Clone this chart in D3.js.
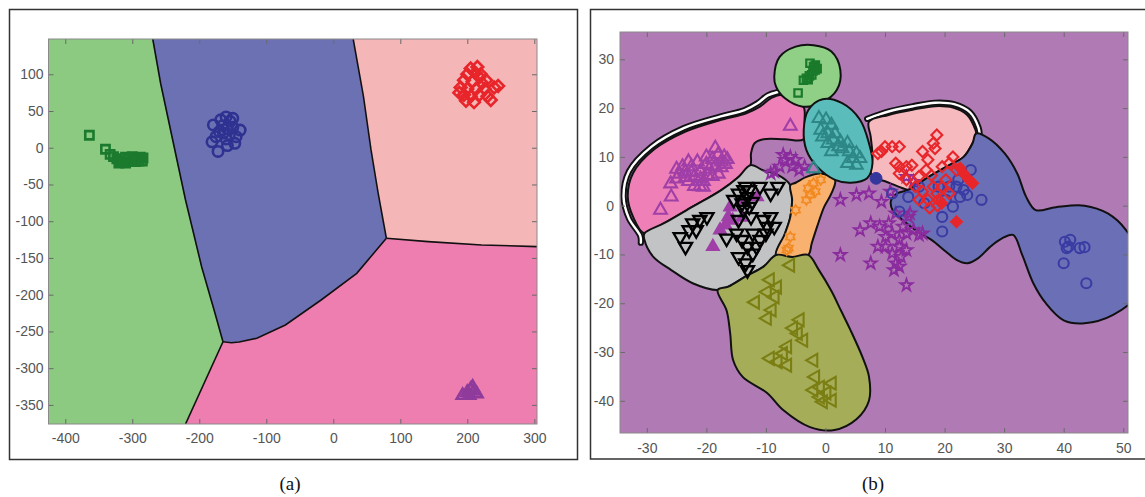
<!DOCTYPE html>
<html><head><meta charset="utf-8">
<script src="https://cdn.jsdelivr.net/npm/d3@7"></script>
<style>
body{margin:0;background:#fff}
svg{display:block}
.tick text{font-family:"Liberation Sans",Arial,sans-serif;font-size:14px;fill:#555}
.tick line{stroke:#6a6a6a;stroke-width:1}
.cap{font-family:"Liberation Serif","DejaVu Serif",serif;font-size:19px;fill:#111}
</style></head>
<body>
<svg id="c" width="1145" height="497"></svg>
<script>
// ---------- tick values ----------
const A_xTicks = [-400,-300,-200,-100,0,100,200,300];
const A_yTicks = [-350,-300,-250,-200,-150,-100,-50,0,50,100];
const B_xTicks = [-30,-20,-10,0,10,20,30,40,50];
const B_yTicks = [-40,-30,-20,-10,0,10,20,30];

// ---------- panel (a) boundaries (data coords) ----------
const A_bGreenBlue = [[-269.4,148],[-257.7,87.8],[-241.8,19.7],[-220.5,-71.1],[-196.5,-161.9],[-177.9,-220.8],[-164.6,-264]];
const A_bGreenPink = [[-164.6,-264],[-220.5,-376]];
const A_bBluePink  = [[-164.6,-264],[-152,-265.5],[-140.6,-264.5],[-114.1,-259.3],[-71.5,-241.2],[-18.2,-207.2],[35.0,-170.9],[79.2,-123.2]];
const A_bBlueLpink = [[29.7,148],[45,70],[56.3,-3.0],[67.0,-62],[79.2,-123.2]];
const A_bLpinkPink = [[79.2,-123.2],[141.5,-127.8],[221.3,-132.3],[304,-134.6]];

// ---------- panel (a) points ----------
const A_greenSq = [[-364,17],[-340,-2],[-333,-9],[-328,-12],[-323,-15],[-318,-18],[-314,-20],[-310,-21],[-305,-19],[-300,-17],[-296,-15],[-292,-14],[-288,-13],[-284,-14],[-310,-13],[-300,-12],[-290,-18],[-320,-21],[-306,-15],[-295,-19],[-285,-18]];
const A_blueCirc = [[-179,31],[-154,36],[-139,24],[-181,8],[-172,-5],[-158,3],[-147,6],[-164,20],[-160,42],[-150,28],[-170,22],[-160,12],[-155,18],[-165,30],[-145,15],[-175,15],[-150,40],[-168,38],[-158,26]];
const A_redDia = [[205,108],[200,100],[212,102],[218,96],[195,92],[208,90],[222,88],[190,82],[200,80],[213,80],[226,80],[195,72],[205,70],[218,72],[230,70],[240,82],[246,84],[235,65],[210,62],[198,64],[220,100],[188,75],[228,92],[215,110]];
const A_purpleTri = [[193,-337],[200,-333],[205,-329],[210,-331],[214,-335],[203,-337],[208,-326]];

// ---------- panel (b) regions (data coords) ----------
const B_green = [[-8.6,26.4],[-7.7,30.5],[-5.0,32.6],[-2.0,32.9],[1.0,31.6],[2.5,27.8],[1.9,23.7],[-0.8,21.0],[-3.8,20.3],[-6.8,22.0],[-8.3,24.4]];
const B_cyan = [[-3.65,15.5],[-2.87,19.6],[-0.48,21.8],[2.8,21.0],[5.8,17.6],[7.3,12.8],[7.9,8.7],[7.0,5.6],[4.3,4.7],[1.6,5.3],[-1.4,8.0],[-3.2,11.4]];
const B_pink = [[-32.3,-2.3],[-33.2,1.8],[-32.3,6.7],[-28.7,11.6],[-23.5,15.2],[-17.5,17.6],[-13.4,18.9],[-11.0,20.3],[-9.2,22.0],[-7.5,22.7],[-5.6,21.3],[-3.7,20.3],[-3.5,17.6],[-3.7,13.6],[-6.8,13.6],[-10.4,13.6],[-11.9,12.8],[-12.5,10.7],[-12.6,8.3],[-14.6,5.9],[-17.5,3.2],[-22.3,-0.2],[-27.1,-3.6],[-30.4,-5.7]];
const B_gray = [[-12.6,8.3],[-10.4,7.2],[-8.0,6.3],[-5.9,4.2],[-5.6,1.2],[-5.9,-2.3],[-6.8,-5.7],[-8.3,-10.1],[-10.4,-12.5],[-13.4,-14.5],[-16.3,-16.6],[-18.1,-17.3],[-22.3,-15.9],[-25.9,-13.2],[-28.9,-10.5],[-30.4,-7.0],[-30.4,-5.7],[-27.1,-3.6],[-22.3,-0.2],[-17.5,3.2],[-14.6,5.9]];
const B_orange = [[-5.9,4.2],[-5.0,4.7],[-3.2,5.9],[-0.8,6.6],[1.6,5.3],[1.0,2.5],[-0.2,-0.2],[-1.4,-4.3],[-2.3,-7.7],[-2.9,-10.1],[-5.6,-10.5],[-8.3,-10.1],[-6.8,-5.7],[-5.9,-2.3],[-5.6,1.2]];
const B_olive = [[-18.1,-17.3],[-16.3,-16.6],[-13.4,-14.5],[-10.4,-12.5],[-8.3,-10.1],[-5.6,-10.5],[-2.9,-10.1],[-1.2,-13],[1.0,-17.5],[2.6,-21.5],[4.2,-25.5],[6.2,-31],[7.3,-35],[7.3,-40],[5.2,-43.8],[1.5,-46],[-2.6,-45.4],[-7.1,-41.9],[-9.8,-38.4],[-13.9,-35.1],[-15.5,-31.7],[-16.0,-26.2],[-16.6,-21.5]];
const B_lpink = [[7.3,17.2],[10.6,18.6],[14.8,19.7],[18.4,20.4],[21.4,20.1],[23.8,18.6],[25.1,15.8],[25.3,14.8],[24.7,12.8],[23.2,10.0],[20.8,8.3],[17.2,5.8],[14.0,3.3],[12.5,3.8],[10.0,5.0],[8.5,5.6],[7.6,6.6],[7.9,10],[7.6,14.1]];
const B_blue = [[25.3,14.8],[27.4,13.8],[30.1,10.7],[32.2,6.6],[33.7,1.8],[35.3,-0.9],[38.7,-0.3],[43.5,0],[47.4,-1.6],[50.4,-4.9],[52.5,-10],[52.5,-18],[48.3,-22.4],[43.5,-24.1],[40,-23.5],[37,-20],[34.9,-15.9],[33,-10],[31.5,-6.0],[29.5,-6.8],[27.6,-8.5],[25.6,-10.8],[23.8,-11.8],[22,-11.1],[20.2,-9.4],[17.8,-7],[15.4,-5.3],[13,-3],[11.3,-1],[11,1],[12,2.5],[14.0,3.3],[17.2,5.8],[20.8,8.3],[23.2,10.0],[24.7,12.8]];
const B_bandLeft = [[-8.0,23.3],[-9.7,22.6],[-11.4,21.0],[-13.6,19.6],[-17.6,18.3],[-23.8,15.9],[-29.2,12.1],[-33.0,7.0],[-33.9,1.8],[-33.0,-2.6],[-31.1,-6.2],[-31.0,-7.6]];
const B_bandRight = [[7.0,17.8],[10.6,19.3],[14.8,20.4],[18.4,21.1],[21.6,20.8],[24.3,19.1],[25.7,16.0],[25.9,14.6]];

// ---------- panel (b) points ----------
const B_greenSq = [[-4.6,23.1],[-2.6,29.2],[-2.0,28.5],[-1.7,27.8],[-2.3,26.8],[-2.9,25.8],[-3.2,26.1],[-1.4,28.1],[-2.1,27.6],[-2.7,26.6],[-1.7,28.8],[-3.7,25.7]];
const B_cyanTri = [[-1.1,17.9],[0.1,17.6],[1.0,16.5],[-0.8,15.5],[0.4,14.8],[1.6,14.8],[1.3,13.5],[2.5,13.1],[3.7,12.8],[2.8,11.7],[4.0,11.1],[5.2,10.7],[4.6,9.7],[5.8,9.7],[3.7,8.7],[5.2,8.3],[0.4,12.8],[-0.5,14.1],[2.2,12.1],[1.0,11.1],[-2.0,7.6]];
const B_magTri = [[-5.9,16.3],[-27.7,-0.9],[-25.9,1.8],[-26,4.5],[-25,5.5],[-24.5,6.5],[-23.5,7],[-23,5],[-22.5,8],[-22,6],[-21.5,9],[-21,7],[-20.5,5],[-20,8.5],[-19.5,7.5],[-19,9.5],[-18.5,8],[-18,10.5],[-17.5,9],[-17,10],[-16.5,9.5],[-24,8],[-22,4],[-20,10],[-19,6],[-25,7.5],[-21,5.5],[-23,9],[-18,6.5],[-16.8,8.5],[-18.5,11.8],[-20.5,3.8],[-17.5,7.8],[-21.1,3.9],[-23.5,5.8],[-19.8,6.2],[-22.5,6.8]];
const B_magFilled = [[-16,-0.3],[-17.7,-5],[-18.9,-8.4],[-13.9,-2.4],[-15.6,-3.0],[-11.5,1.8],[-16.3,-2.3],[-14,1.2],[-16.8,-4]];
const B_blackTri = [[-24.4,-6.4],[-23.5,-8.4],[-22.3,-3.6],[-21.1,-2.9],[-19.9,-2.3],[-22.9,-5.0],[-21.7,-5.0],[-16.6,-6.7],[-14.9,-5.7],[-14.0,-7.0],[-13.1,-8.4],[-14.6,-10.5],[-13.4,-11.8],[-13.1,-13.2],[-12.2,-9.8],[-11.0,-7.0],[-12.2,-5.7],[-10.4,-2.9],[-9.2,-2.3],[-8.6,-4.3],[-9.8,-4.3],[-11.0,3.9],[-8.0,3.9],[-9.2,2.5],[-14.6,2.5],[-13.7,3.2],[-13.1,1.8],[-14.0,0.5],[-12.8,3.2],[-13.4,3.9],[-15.4,1.2],[-12.8,-0.2],[-11.6,-8.4],[-10.0,-5.7],[-14.6,-2.9],[-12.5,-2.3],[-13.8,-0.8],[-12.3,0.8]];
const B_orangeHex = [[-0.8,5.3],[-2.0,4.6],[-2.9,3.6],[-1.7,2.9],[-2.6,2.2],[-3.2,1.2],[-5.0,-0.9],[-5.9,-6.4],[-6.2,-8.7],[-6.5,-9.1]];
const B_purpleStar = [[-8.6,7.0],[-7.7,8.0],[-6.8,9.4],[-5.9,10.0],[-5.6,8.0],[-7.1,10.4],[-9.2,6.6],[-5.0,9.4],[-4.4,7.3],[-3.5,8.0],[2.5,1.2],[5.2,2.2],[7.3,2.5],[9.4,0.8],[10.9,2.9],[5.8,-5.0],[7.6,-3.6],[9.1,-4.3],[10.1,-6.4],[11.2,-5.7],[12.4,-7.0],[13.6,-5.7],[14.8,-5.0],[15.7,-6.0],[16.3,-5.7],[12.4,-8.4],[13.6,-9.1],[11.2,-9.8],[11.8,-11.8],[11.5,-13.2],[12.4,-12.5],[12.7,-10.5],[2.5,-10.1],[7.6,-11.8],[13.6,-16.3],[13.9,-2.3],[14.2,-1.6],[11.8,-1.6],[13.0,-4.3],[14.8,4.9],[13.6,5.9],[10.6,-3.6],[8.8,-8.4],[10.1,-8.4]];
const B_redDia = [[8.8,10.7],[10.0,12.1],[11.2,12.1],[12.4,12.1],[9.4,11.1],[11.8,8.7],[12.4,8.0],[13.6,8.0],[14.5,8.3],[16.3,11.1],[18.1,12.8],[18.7,14.5],[18.4,11.7],[17.2,9.4],[16.9,7.3],[15.7,6.0],[15.1,3.9],[15.7,1.2],[17.2,1.2],[17.5,-0.5],[18.7,2.5],[19.6,3.9],[20.2,5.3],[19.6,8.0],[20.8,8.7],[21.4,10.0],[22.0,7.3],[18.1,3.9],[19.0,1.2],[20.8,2.5],[16.3,2.9],[13.6,5.3],[12.4,6.6],[17.8,6.2],[18.8,0]];
const B_redFilled = [[22.0,-3.3],[24.1,5.3],[23.2,6.6],[24.7,4.6],[22.6,7.7],[19.5,0.5]];
const B_blueCirc = [[40.2,-7.4],[41.1,-7.0],[40.8,-8.4],[42.7,-8.7],[43.5,-8.5],[40.0,-11.8],[43.8,-15.9],[40.5,-8.7],[12.4,-1.2],[13.9,1.8],[15.7,3.9],[19.6,-2.3],[19.6,-5.3],[21.4,-0.2],[22.6,1.8],[23.2,3.2],[24.4,7.3],[26.2,1.2],[22.0,3.9],[23.8,2.2],[20.8,3.9],[22.3,5.3],[19.0,3.9],[16.6,0.5],[20.2,1.2],[11.2,2.5]];
const B_blueFilled = [[8.5,5.6]];
const B_oliveTri = [[-5.9,-12.2],[-9.3,-15.2],[-8.1,-16.7],[-9.8,-17.7],[-8.5,-18.7],[-11.8,-19.8],[-9.0,-21.4],[-9.8,-23.1],[-4.3,-23.4],[-5.4,-25.1],[-4.6,-26.2],[-3.7,-27.6],[-6.4,-28.9],[-7.1,-30.3],[-9.3,-31.3],[-8.0,-32.0],[-6.4,-32.7],[-2.0,-31.7],[-1.7,-35.1],[-2.0,-37.8],[-0.9,-37.2],[1.1,-36.4],[-0.9,-39.2],[0.2,-38.4],[1.1,-39.9],[-0.4,-40.2]];

// ---------- drawing ----------
const svg = d3.select("#c");
const hexagram = {draw(ctx,size){const r=Math.sqrt(size/2.2),ri=r*0.62;for(let i=0;i<12;i++){const a=i*Math.PI/6-Math.PI/2,rr=i%2?ri:r;const px=rr*Math.cos(a),py=rr*Math.sin(a);if(i)ctx.lineTo(px,py);else ctx.moveTo(px,py);}ctx.closePath();}};

function axes(g,x,y,xt,yt,padB,padL){
  const [x0,x1]=x.range(),[y0,y1]=y.range();
  const fmt=d=>String(d);
  const clean=s=>s.select(".domain").remove();
  g.append("g").attr("transform",`translate(0,${y0})`).call(d3.axisBottom(x).tickValues(xt).tickSize(-5).tickPadding(padB).tickFormat(fmt)).call(clean);
  g.append("g").attr("transform",`translate(0,${y1})`).call(d3.axisTop(x).tickValues(xt).tickSize(-5).tickFormat("")).call(clean);
  g.append("g").attr("transform",`translate(${x0},0)`).call(d3.axisLeft(y).tickValues(yt).tickSize(-5).tickPadding(padL).tickFormat(fmt)).call(clean);
  g.append("g").attr("transform",`translate(${x1},0)`).call(d3.axisRight(y).tickValues(yt).tickSize(-5).tickFormat("")).call(clean);
  g.append("rect").attr("x",x0).attr("y",y1).attr("width",x1-x0).attr("height",y0-y1).attr("fill","none").attr("stroke","#8a8a8a").attr("stroke-width",1);
}
function marks(g,data,type,size,rot,stroke,fill,sw,x,y){
  g.selectAll(null).data(data).enter().append("path")
   .attr("d",d3.symbol().type(type).size(size))
   .attr("transform",d=>`translate(${x(d[0])},${y(d[1])}) rotate(${rot})`)
   .attr("fill",fill).attr("stroke",stroke).attr("stroke-width",sw);
}

// outer frames
svg.append("rect").attr("x",9.5).attr("y",9.5).attr("width",568).attr("height",450).attr("fill","none").attr("stroke","#333").attr("stroke-width",1.5);
svg.append("rect").attr("x",590.5).attr("y",9.5).attr("width",600).attr("height",449.5).attr("fill","none").attr("stroke","#333").attr("stroke-width",1.5);

// ===== panel (a) =====
const xA=d3.scaleLinear().domain([-425,304]).range([48.5,537]);
const yA=d3.scaleLinear().domain([-376,148]).range([424,39]);
const gA=svg.append("g");
svg.append("clipPath").attr("id","clipA").append("rect").attr("x",48.5).attr("y",39).attr("width",537-48.5).attr("height",424-39);
const pA=gA.append("g").attr("clip-path","url(#clipA)");
const lineA=d3.line().x(d=>xA(d[0])).y(d=>yA(d[1]));
const rev=a=>a.slice().reverse();
const polyGreen=[[-425,148],...A_bGreenBlue,[-220.5,-376],[-425,-376]];
const polyBlue=[...A_bGreenBlue,...A_bBluePink.slice(1),...rev(A_bBlueLpink).slice(1)];
const polyLpink=[[29.7,148],[304,148],[304,-134.6],...rev(A_bLpinkPink).slice(1),...rev(A_bBlueLpink).slice(1)];
const polyPink=[...A_bBluePink,...A_bLpinkPink.slice(1),[304,-376],[-220.5,-376]];
[[polyGreen,"#8cc981"],[polyBlue,"#6c71b4"],[polyLpink,"#f5b6b8"],[polyPink,"#ee7db0"]].forEach(([p,c])=>{
  pA.append("path").attr("d",lineA(p)+"Z").attr("fill",c).attr("stroke",c).attr("stroke-width",0.6);
});
[A_bGreenBlue,A_bGreenPink,A_bBluePink,A_bBlueLpink,A_bLpinkPink].forEach(b=>{
  pA.append("path").attr("d",lineA(b)).attr("fill","none").attr("stroke","#111").attr("stroke-width",1.6);
});
marks(pA,A_greenSq,d3.symbolSquare,68,0,"#1b7a2d","none",2.6,xA,yA);
marks(pA,A_blueCirc,d3.symbolCircle,85,0,"#2f3291","none",2.6,xA,yA);
marks(pA,A_redDia,d3.symbolSquare,68,45,"#e8252a","none",2.6,xA,yA);
marks(pA,A_purpleTri,d3.symbolTriangle,60,0,"#8f3b9c","none",2.6,xA,yA);
axes(gA,xA,yA,A_xTicks,A_yTicks,9.5,5);

// ===== panel (b) =====
const xB=d3.scaleLinear().domain([-34.5,50.8]).range([620,1128]);
const yB=d3.scaleLinear().domain([-46.6,35.6]).range([433,32]);
const gB=svg.append("g");
svg.append("clipPath").attr("id","clipB").append("rect").attr("x",620).attr("y",32).attr("width",1128-620).attr("height",433-32);
const pB=gB.append("g").attr("clip-path","url(#clipB)");
pB.append("rect").attr("x",620).attr("y",32).attr("width",508).attr("height",401).attr("fill","#b07bb5");
const blob=d3.line().x(d=>xB(d[0])).y(d=>yB(d[1])).curve(d3.curveCatmullRomClosed.alpha(0.5));
const open=d3.line().x(d=>xB(d[0])).y(d=>yB(d[1])).curve(d3.curveCatmullRom.alpha(0.5));
[B_bandLeft,B_bandRight].forEach(b=>{
  pB.append("path").attr("d",open(b)).attr("fill","none").attr("stroke","#111").attr("stroke-width",6.2).attr("stroke-linecap","round");
  pB.append("path").attr("d",open(b)).attr("fill","none").attr("stroke","#fff").attr("stroke-width",2.4).attr("stroke-linecap","round");
});
[[B_pink,"#ee80b7"],[B_gray,"#c1c3c5"],[B_orange,"#f8b16f"],[B_olive,"#a5ad59"],[B_lpink,"#f6b9bd"],[B_blue,"#6b70b6"],[B_green,"#8fcf86"],[B_cyan,"#5bbdbb"]].forEach(([p,c])=>{
  pB.append("path").attr("d",blob(p)).attr("fill",c).attr("stroke","#111").attr("stroke-width",2);
});
marks(pB,B_purpleStar,d3.symbolStar,45,0,"#8b2c9e","none",1.8,xB,yB);
marks(pB,B_orangeHex,hexagram,55,0,"#f28a22","none",1.8,xB,yB);
marks(pB,B_greenSq,d3.symbolSquare,55,0,"#1a7a2b","none",2.2,xB,yB);
marks(pB,B_cyanTri,d3.symbolTriangle,70,0,"#2e8787","none",2,xB,yB);
marks(pB,B_magTri,d3.symbolTriangle,70,0,"#a03fa8","none",2.1,xB,yB);
marks(pB,B_magFilled,d3.symbolTriangle,70,0,"#a03fa8","#a03fa8",1.5,xB,yB);
marks(pB,B_blackTri,d3.symbolTriangle,75,180,"#000","none",2.3,xB,yB);
marks(pB,B_oliveTri,d3.symbolTriangle,72,-90,"#7b7f13","none",2.1,xB,yB);
marks(pB,B_blueCirc,d3.symbolCircle,80,0,"#3a3ca4","none",2.1,xB,yB);
marks(pB,B_blueFilled,d3.symbolCircle,110,0,"#34369c","#34369c",1,xB,yB);
marks(pB,B_redDia,d3.symbolSquare,60,45,"#e8262a","none",2.1,xB,yB);
marks(pB,B_redFilled,d3.symbolSquare,75,45,"#e8262a","#e8262a",1,xB,yB);
axes(gB,xB,yB,B_xTicks,B_yTicks,10.5,6);

// captions
svg.append("text").attr("class","cap").attr("x",290).attr("y",490).attr("text-anchor","middle").text("(a)");
svg.append("text").attr("class","cap").attr("x",873).attr("y",490).attr("text-anchor","middle").text("(b)");
</script>
</body></html>
